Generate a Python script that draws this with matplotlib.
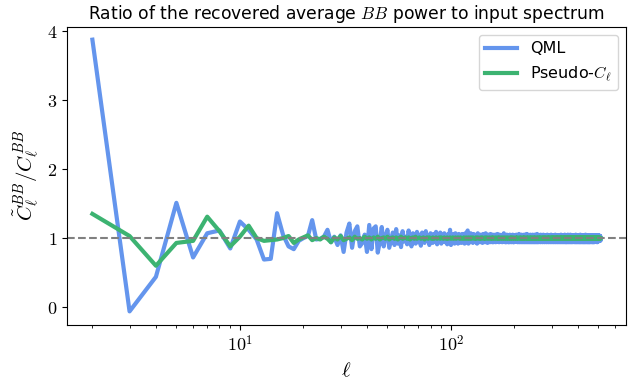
import numpy as np
import matplotlib
matplotlib.use("Agg")
import matplotlib.pyplot as plt
from matplotlib.ticker import FuncFormatter

# multipoles 2..511
ell = np.arange(2, 512)

# QML recovered / input BB ratio, one value per ell
qml_ratio = [
    3.87, -0.06, 0.44, 1.51, 0.72, 1.07, 1.11, 0.85, 1.24, 1.12, 0.98, 0.69, 0.70, 1.36, 1.05, 0.88, 0.84, 0.96, 1.00, 1.03,
    1.26, 0.98, 0.99, 1.02, 1.12, 0.94, 1.02, 0.90, 1.04, 0.80, 1.08, 1.21, 0.86, 1.10, 1.17, 0.88, 0.93, 1.05, 0.80, 1.19,
    0.84, 1.14, 1.17, 0.79, 0.95, 1.16, 0.88, 1.03, 1.12, 0.86, 0.97, 1.08, 0.90, 1.13, 0.92, 1.04, 0.87, 1.10, 0.95, 1.02,
    0.91, 1.11, 0.96, 0.88, 1.07, 1.00, 0.92, 1.09, 0.94, 1.05, 0.89, 1.08, 0.97, 0.93, 1.10, 0.96, 1.03, 0.90, 1.07, 0.98,
    0.93, 1.06, 0.95, 1.09, 0.91, 1.04, 0.97, 1.08, 0.92, 1.02, 0.95, 1.07, 0.94, 1.03, 0.91, 1.06, 0.97, 1.12, 0.90, 1.04,
    0.93, 1.06, 0.92, 1.07, 0.95, 1.04, 0.92, 1.06, 0.94, 1.03, 0.93, 1.06, 0.96, 1.05, 0.92, 1.07, 0.94, 1.08, 1.11, 0.92,
    1.04, 0.94, 1.07, 0.95, 1.03, 0.93, 1.06, 0.95, 1.04, 0.94, 1.05, 0.92, 1.07, 0.95, 1.03, 0.94, 1.05, 0.95, 1.04, 0.93,
    1.06, 0.95, 1.03, 0.94, 1.07, 0.95, 1.04, 0.93, 1.05, 0.95, 1.03, 0.94, 1.06, 0.95, 1.04, 0.94, 1.05, 0.94, 1.03, 0.95,
    1.05, 0.94, 1.04, 0.95, 1.06, 0.95, 1.03, 0.94, 1.05, 0.95, 1.04, 0.95, 1.03, 0.94, 1.05, 0.95, 1.07, 0.95, 1.04, 0.94,
    1.03, 0.94, 1.05, 0.95, 1.04, 0.94, 1.03, 0.94, 1.05, 0.95, 1.04, 0.94, 1.03, 0.95, 1.05, 0.94, 1.04, 0.94, 1.03, 0.95,
    1.04, 0.95, 1.05, 0.95, 1.03, 0.94, 1.04, 0.95, 1.06, 0.94, 1.03, 0.95, 1.04, 0.94, 1.05, 0.95, 1.03, 0.94, 1.04, 0.95,
    1.05, 0.94, 1.03, 0.95, 1.04, 0.94, 1.06, 0.95, 1.03, 0.94, 1.05, 0.95, 1.04, 0.94, 1.03, 0.95, 1.05, 0.94, 1.04, 0.95,
    1.03, 0.94, 1.05, 0.95, 1.04, 0.94, 1.03, 0.95, 1.05, 0.94, 1.04, 0.95, 1.03, 0.94, 1.06, 0.95, 1.04, 0.94, 1.03, 0.95,
    1.04, 0.95, 1.03, 0.94, 1.05, 0.95, 1.03, 0.95, 1.04, 0.94, 1.03, 0.95, 1.05, 0.95, 1.04, 0.94, 1.03, 0.95, 1.04, 0.95,
    1.03, 0.94, 1.04, 0.95, 1.05, 0.95, 1.03, 0.94, 1.04, 0.95, 1.03, 0.95, 1.04, 0.94, 1.03, 0.95, 1.05, 0.95, 1.03, 0.94,
    1.04, 0.95, 1.03, 0.95, 1.04, 0.94, 1.03, 0.95, 1.04, 0.95, 1.05, 0.94, 1.03, 0.95, 1.04, 0.95, 1.03, 0.94, 1.04, 0.95,
    1.03, 0.95, 1.04, 0.94, 1.03, 0.95, 1.04, 0.95, 1.03, 0.94, 1.05, 0.95, 1.03, 0.95, 1.04, 0.94, 1.03, 0.95, 1.04, 0.95,
    1.04, 0.94, 1.03, 0.95, 1.05, 0.95, 1.03, 0.94, 1.04, 0.95, 1.03, 0.94, 1.04, 0.95, 1.03, 0.95, 1.05, 0.94, 1.03, 0.95,
    1.03, 0.95, 1.04, 0.94, 1.03, 0.95, 1.05, 0.95, 1.03, 0.94, 1.04, 0.95, 1.03, 0.95, 1.04, 0.94, 1.03, 0.95, 1.04, 0.95,
    1.04, 0.95, 1.03, 0.94, 1.04, 0.95, 1.03, 0.95, 1.05, 0.94, 1.03, 0.95, 1.04, 0.95, 1.03, 0.94, 1.04, 0.95, 1.03, 0.95,
    1.03, 0.94, 1.04, 0.95, 1.03, 0.95, 1.04, 0.94, 1.05, 0.95, 1.03, 0.95, 1.04, 0.94, 1.03, 0.95, 1.04, 0.95, 1.03, 0.94,
    1.04, 0.95, 1.03, 0.95, 1.04, 0.94, 1.03, 0.95, 1.04, 0.95, 1.03, 0.94, 1.05, 0.95, 1.03, 0.95, 1.04, 0.94, 1.03, 0.95,
    1.03, 0.95, 1.04, 0.94, 1.03, 0.95, 1.04, 0.95, 1.03, 0.94, 1.04, 0.95, 1.03, 0.95, 1.04, 0.94, 1.03, 0.95, 1.04, 0.95,
    1.04, 0.95, 1.03, 0.94, 1.04, 0.95, 1.03, 0.95, 1.04, 0.94, 1.03, 0.95, 1.04, 0.95, 1.03, 0.94, 1.04, 0.95, 1.03, 0.95,
    1.03, 0.95, 1.04, 0.95, 1.03, 0.95, 1.04, 0.95, 1.03, 0.95, 1.04, 0.94, 1.03, 0.95, 1.04, 0.95, 1.03, 0.95, 1.04, 0.96,
    1.03, 0.96, 1.04, 0.96, 1.03, 0.96, 1.03, 0.96, 1.03, 0.98,
]

# Pseudo-Cl recovered / input BB ratio, one value per ell
pcl_ratio = [
    1.35, 1.03, 0.60, 0.93, 0.96, 1.31, 1.10, 0.88, 1.02, 1.18, 1.00, 0.96, 0.97, 0.98, 1.00, 1.03, 0.93, 0.98, 1.01, 1.04,
    0.97, 1.00, 0.98, 1.02, 0.99, 0.94, 1.01, 0.98, 1.03, 0.97, 0.99, 1.01, 0.97, 1.02, 0.99, 1.00, 0.98, 1.02, 0.99, 1.01,
    0.98, 1.01, 0.99, 1.02, 0.98, 1.00, 1.01, 0.99, 1.02, 0.98, 1.00, 1.01, 0.99, 1.01, 0.98, 1.00, 1.02, 0.99, 1.00, 1.01,
    0.99, 1.01, 0.98, 1.00, 1.01, 0.99, 1.02, 0.99, 1.00, 1.01, 0.99, 1.00, 1.01, 0.98, 1.00, 1.01, 0.99, 1.01, 1.00, 0.99,
    1.01, 0.99, 1.00, 1.01, 0.99, 1.00, 1.01, 0.99, 1.01, 1.00, 0.99, 1.01, 1.00, 0.99, 1.01, 0.99, 1.00, 1.01, 0.99, 1.00,
    1.01, 0.99, 1.00, 1.01, 0.99, 1.00, 1.01, 1.00, 0.99, 1.01, 1.00, 0.99, 1.00, 1.01, 0.99, 1.00, 1.01, 0.99, 1.00, 1.01,
    0.99, 1.00, 1.01, 0.99, 1.00, 1.01, 1.00, 0.99, 1.00, 1.01, 0.99, 1.00, 1.01, 1.00, 0.99, 1.00, 1.01, 0.99, 1.00, 1.01,
    1.00, 0.99, 1.00, 1.01, 0.99, 1.00, 1.01, 1.00, 0.99, 1.00, 1.01, 1.00, 0.99, 1.00, 1.01, 0.99, 1.00, 1.01, 1.00, 0.99,
    1.00, 1.01, 1.00, 0.99, 1.00, 1.01, 0.99, 1.00, 1.01, 1.00, 0.99, 1.00, 1.01, 1.00, 0.99, 1.00, 1.01, 1.00, 0.99, 1.00,
    1.01, 1.00, 0.99, 1.00, 1.01, 1.00, 0.99, 1.00, 1.00, 1.01, 0.99, 1.00, 1.01, 1.00, 0.99, 1.00, 1.01, 1.00, 0.99, 1.00,
    1.00, 1.01, 0.99, 1.00, 1.01, 1.00, 0.99, 1.00, 1.00, 1.01, 1.00, 0.99, 1.00, 1.01, 1.00, 0.99, 1.00, 1.00, 1.01, 0.99,
    1.00, 1.01, 1.00, 0.99, 1.00, 1.00, 1.01, 1.00, 0.99, 1.00, 1.01, 1.00, 0.99, 1.00, 1.00, 1.01, 1.00, 0.99, 1.00, 1.01,
    1.00, 0.99, 1.00, 1.00, 1.01, 1.00, 0.99, 1.00, 1.01, 1.00, 0.99, 1.00, 1.00, 1.01, 1.00, 0.99, 1.00, 1.00, 1.01, 1.00,
    0.99, 1.00, 1.01, 1.00, 0.99, 1.00, 1.00, 1.01, 1.00, 0.99, 1.00, 1.00, 1.01, 1.00, 0.99, 1.00, 1.01, 1.00, 0.99, 1.00,
    1.00, 1.01, 1.00, 0.99, 1.00, 1.00, 1.01, 1.00, 0.99, 1.00, 1.01, 1.00, 0.99, 1.00, 1.00, 1.01, 1.00, 0.99, 1.00, 1.00,
    1.01, 1.00, 0.99, 1.00, 1.01, 1.00, 0.99, 1.00, 1.00, 1.01, 1.00, 0.99, 1.00, 1.00, 1.01, 1.00, 0.99, 1.00, 1.01, 1.00,
    0.99, 1.00, 1.00, 1.01, 1.00, 0.99, 1.00, 1.00, 1.01, 1.00, 0.99, 1.00, 1.01, 1.00, 0.99, 1.00, 1.00, 1.01, 1.00, 0.99,
    1.00, 1.00, 1.01, 1.00, 0.99, 1.00, 1.01, 1.00, 0.99, 1.00, 1.00, 1.01, 1.00, 0.99, 1.00, 1.00, 1.01, 1.00, 0.99, 1.00,
    1.01, 1.00, 0.99, 1.00, 1.00, 1.01, 1.00, 0.99, 1.00, 1.00, 1.01, 1.00, 0.99, 1.00, 1.01, 1.00, 0.99, 1.00, 1.00, 1.01,
    1.00, 0.99, 1.00, 1.00, 1.01, 1.00, 0.99, 1.00, 1.01, 1.00, 0.99, 1.00, 1.00, 1.01, 1.00, 0.99, 1.00, 1.00, 1.01, 1.00,
    0.99, 1.00, 1.01, 1.00, 0.99, 1.00, 1.00, 1.01, 1.00, 0.99, 1.00, 1.00, 1.01, 1.00, 0.99, 1.00, 1.01, 1.00, 0.99, 1.00,
    1.00, 1.01, 1.00, 0.99, 1.00, 1.00, 1.01, 1.00, 0.99, 1.00, 1.01, 1.00, 0.99, 1.00, 1.00, 1.01, 1.00, 0.99, 1.00, 1.00,
    1.01, 1.00, 0.99, 1.00, 1.01, 1.00, 0.99, 1.00, 1.00, 1.01, 1.00, 0.99, 1.00, 1.00, 1.01, 1.00, 0.99, 1.00, 1.01, 1.00,
    0.99, 1.00, 1.00, 1.01, 1.00, 0.99, 1.00, 1.00, 1.01, 1.00, 0.99, 1.00, 1.01, 1.00, 0.99, 1.00, 1.00, 1.01, 1.00, 0.99,
    1.00, 1.00, 1.01, 1.00, 0.99, 1.00, 1.01, 1.00, 0.99, 1.00, 1.00, 1.01, 1.00, 0.99, 1.00, 1.00, 1.01, 1.00, 0.99, 1.00,
    1.01, 1.00, 0.99, 1.00, 1.00, 1.01, 1.00, 0.99, 1.00, 1.00,
]

series_labels = ["QML", r"Pseudo-$C_\ell$"]

plt.rcParams["mathtext.fontset"] = "cm"

fig = plt.figure(figsize=(6.38, 3.84), dpi=100)
ax = fig.add_subplot(111)
fig.subplots_adjust(left=0.105, right=0.981, top=0.930, bottom=0.154)

n = min(len(ell), len(qml_ratio))
ax.plot(ell[:n], qml_ratio[:n], color="cornflowerblue", lw=3, label=series_labels[0])
n = min(len(ell), len(pcl_ratio))
ax.plot(ell[:n], pcl_ratio[:n], color="mediumseagreen", lw=3, label=series_labels[1])
ax.axhline(1.0, color="grey", ls="--", lw=1.5)

ax.set_xscale("log")
ax.set_ylim(-0.255, 4.055)
ax.set_yticks([0, 1, 2, 3, 4])
ax.yaxis.set_major_formatter(FuncFormatter(lambda v, p: r"$%d$" % round(v)))
ax.xaxis.set_major_formatter(FuncFormatter(lambda v, p: r"$10^{%d}$" % round(np.log10(v))))
ax.tick_params(labelsize=13)

ax.set_xlabel(r"$\ell$", fontsize=15)
ax.set_ylabel(r"$\tilde{C}_\ell^{BB}/C_\ell^{BB}$", fontsize=15)
ax.set_title(r"Ratio of the recovered average $BB$ power to input spectrum", fontsize=12.3)
ax.legend(loc="upper right", fontsize=11.5)

fig.savefig("out.png", dpi=100)
